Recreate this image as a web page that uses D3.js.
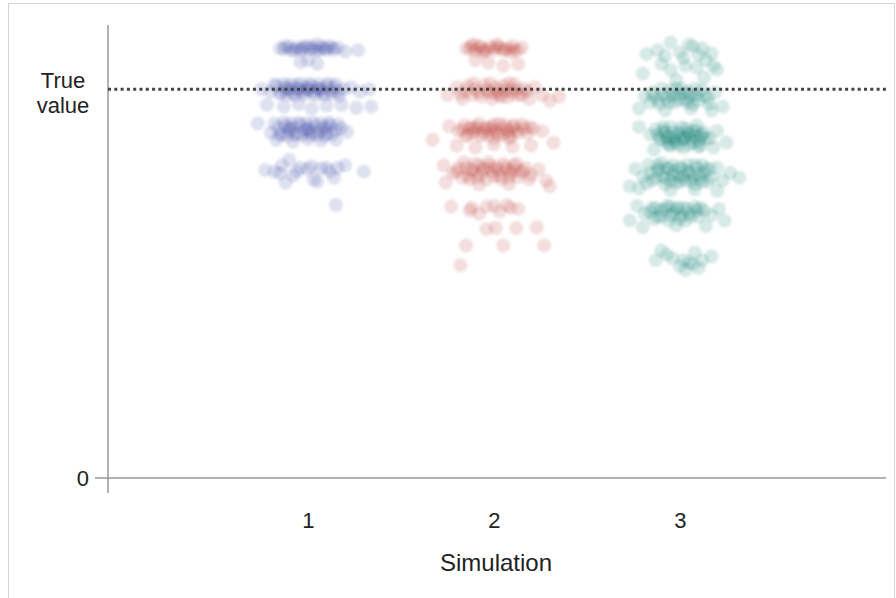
<!DOCTYPE html>
<html><head><meta charset="utf-8">
<script src="https://cdn.jsdelivr.net/npm/d3@7"></script>
<style>body{margin:0;background:#fff}svg{display:block}</style>
</head><body>
<svg id="c" width="896" height="598"></svg>
<script>
const simulations = [1, 2, 3];
const trueValue = 10;
const yTicks = [0, 10];
const yTickLabels = {0: ["0"], 10: ["True", "value"]};
const xTitle = "Simulation";
const colors = ["#303f9f", "#b8342a", "#00796b"];
// [jitter, value]
const sim1 = [
[-0.15,11.05],[-0.12,11.11],[-0.09,10.99],[-0.06,11.07],[-0.04,11.01],[-0.02,11.09],[0.01,11.03],[0.03,11.07],[0.06,10.99],[0.09,11.05],[0.11,11.11],[0.14,11.01],[0.16,11.07],[0.2,10.97],[0.27,11.0],
[-0.13,11.03],[-0.1,11.09],[-0.07,11.01],[-0.03,11.05],[0.0,11.11],[0.04,10.99],[0.07,11.09],[0.1,11.01],[0.13,11.07],[0.05,11.15],
[-0.04,10.7],[0.05,10.65],[0.0,10.75],
[-0.25,10.0],[-0.2,9.94],[-0.17,10.08],[-0.14,9.91],[-0.12,10.05],[-0.1,10.0],[-0.08,9.9],[-0.06,10.1],[-0.05,10.0],[-0.03,9.94],[-0.01,10.05],[0.0,9.97],[0.02,10.08],[0.03,9.91],[0.05,10.02],[0.07,10.0],[0.08,9.9],[0.1,10.08],[0.12,9.97],[0.14,10.05],[0.16,9.94],[0.19,10.0],[0.23,10.05],[0.28,9.94],[0.33,10.0],
[-0.18,10.12],[-0.15,9.88],[-0.13,10.14],[-0.11,9.86],[-0.09,10.12],[-0.07,9.84],[-0.04,10.14],[-0.02,9.86],[0.01,10.14],[0.04,9.84],[0.06,10.12],[0.09,9.86],[0.11,10.14],[0.13,9.88],[0.15,10.12],[0.17,9.84],[-0.06,10.0],[0.0,10.0],[0.06,10.0],[-0.12,10.0],
[-0.22,9.6],[-0.13,9.55],[-0.05,9.62],[0.02,9.5],[0.1,9.58],[0.18,9.6],[0.26,9.52],[0.34,9.55],
[-0.27,9.12],[-0.2,8.88],[-0.16,9.0],[-0.14,8.84],[-0.12,9.05],[-0.1,8.92],[-0.08,9.0],[-0.06,8.86],[-0.04,9.08],[-0.02,8.95],[0.0,9.0],[0.02,8.88],[0.04,9.05],[0.06,8.92],[0.08,9.0],[0.1,8.86],[0.12,9.08],[0.15,8.95],[0.18,9.0],[0.21,8.9],
[-0.18,9.12],[-0.15,8.82],[-0.13,9.14],[-0.11,8.8],[-0.09,9.12],[-0.07,8.82],[-0.05,9.14],[-0.03,8.82],[-0.01,9.12],[0.01,8.82],[0.03,9.14],[0.05,8.82],[0.07,9.12],[0.09,8.8],[0.11,9.14],[0.13,8.84],[0.16,9.1],[-0.1,9.0],[0.0,8.95],[0.1,9.0],
[-0.17,8.7],[-0.08,8.65],[0.0,8.72],[0.07,8.68],[0.15,8.7],
[-0.23,7.92],[-0.18,7.88],[-0.14,8.04],[-0.1,8.18],[-0.08,7.78],[-0.04,7.98],[0.0,7.94],[0.03,7.68],[0.07,7.96],[0.12,7.88],[0.16,7.98],[0.2,8.04],[0.3,7.88],[-0.12,7.6],[0.05,7.62],
[-0.15,7.84],[-0.06,7.88],[0.02,8.02],[0.1,7.98],[0.14,7.72],
[0.15,7.02]
];
const sim2 = [
[-0.15,11.05],[-0.12,11.11],[-0.1,10.99],[-0.07,11.07],[-0.05,11.01],[-0.02,11.09],[0.0,11.01],[0.03,11.07],[0.05,10.99],[0.08,11.05],[0.1,11.11],[0.13,11.01],[0.15,11.07],
[-0.13,11.03],[-0.08,11.11],[-0.04,10.99],[0.01,11.09],[0.06,11.03],[0.11,10.99],[-0.11,11.15],[0.02,11.15],[0.09,10.95],[-0.06,10.95],
[-0.03,10.68],[0.05,10.6],[0.13,10.65],[-0.1,10.75],
[-0.25,9.85],[-0.2,10.05],[-0.17,9.75],[-0.14,10.09],[-0.12,9.85],[-0.1,10.01],[-0.07,9.81],[-0.05,10.11],[-0.03,9.91],[-0.01,9.75],[0.01,10.05],[0.03,9.85],[0.05,10.09],[0.07,9.79],[0.09,9.99],[0.11,10.13],[0.13,9.85],[0.16,10.01],[0.19,9.75],[0.22,10.05],[0.26,9.85],[0.3,9.7],[0.35,9.81],
[-0.15,9.95],[-0.11,10.15],[-0.08,9.91],[-0.04,9.99],[-0.02,10.15],[0.0,9.89],[0.02,9.97],[0.04,9.81],[0.06,9.95],[0.08,10.15],[0.1,9.89],[0.12,9.99],[0.15,9.85],[0.18,9.95],[-0.18,9.89],
[-0.33,8.7],[-0.24,9.05],[-0.19,8.92],[-0.16,9.07],[-0.14,8.83],[-0.12,9.03],[-0.1,8.97],[-0.08,9.11],[-0.06,8.87],[-0.04,9.03],[-0.02,8.95],[0.0,9.09],[0.02,8.83],[0.04,8.99],[0.06,9.07],[0.08,8.89],[0.1,9.03],[0.12,8.95],[0.15,9.09],[0.18,8.87],[0.21,8.99],[0.26,8.92],
[-0.17,8.97],[-0.15,8.79],[-0.13,8.99],[-0.11,8.87],[-0.09,9.03],[-0.07,8.79],[-0.05,8.97],[-0.03,8.83],[-0.01,9.03],[0.01,8.91],[0.03,9.11],[0.05,8.83],[0.07,8.97],[0.09,8.79],[0.11,9.07],[0.13,8.87],[0.16,8.99],[0.19,9.03],[0.0,8.73],[0.08,8.73],
[-0.2,8.55],[-0.1,8.5],[0.0,8.58],[0.1,8.52],[0.2,8.55],[0.32,8.62],
[-0.27,8.04],[-0.22,7.84],[-0.19,7.98],[-0.16,8.12],[-0.14,7.78],[-0.12,7.94],[-0.1,8.08],[-0.07,7.82],[-0.05,7.98],[-0.03,8.12],[-0.01,7.88],[0.01,8.0],[0.03,7.78],[0.05,8.08],[0.07,7.92],[0.09,7.84],[0.11,8.04],[0.14,7.88],[0.17,7.98],[0.2,7.8],[0.24,7.94],[0.28,7.65],[-0.26,7.6],[-0.08,7.55],[0.08,7.56],[0.3,7.5],
[-0.2,7.88],[-0.17,7.72],[-0.15,7.98],[-0.13,7.68],[-0.11,7.88],[-0.09,7.72],[-0.06,7.92],[-0.04,7.68],[-0.02,8.02],[0.0,7.76],[0.02,7.92],[0.04,7.68],[0.06,8.0],[0.08,7.72],[0.1,7.92],[0.13,7.74],[0.16,7.88],[0.19,7.68],[-0.08,8.04],[0.12,8.08],
[-0.23,6.98],[-0.13,6.88],[-0.04,6.98],[0.03,6.86],[0.07,7.02],[0.13,6.92],[-0.08,6.8],
[-0.12,6.95],[0.0,7.0],[0.09,6.95],
[0.01,6.43],[0.12,6.43],[0.23,6.45],[-0.04,6.4],
[-0.15,5.98],[0.05,5.98],[0.27,5.98],
[-0.18,5.47]
];
const sim3 = [
[-0.05,11.2],[0.05,11.15],[0.12,11.05],[-0.18,10.9],[-0.08,10.85],[0.0,10.95],[0.1,10.88],[0.17,10.92],[-0.1,10.65],[0.03,10.6],[0.09,10.55],[0.18,10.6],[-0.2,10.4],[0.13,10.3],[0.2,10.5],[-0.02,10.25],
[-0.12,11.0],[0.07,11.1],[0.02,10.8],[0.14,10.75],[-0.05,10.5],
[-0.19,9.82],[-0.15,9.92],[-0.12,9.72],[-0.1,10.02],[-0.07,9.78],[-0.05,9.98],[-0.03,9.66],[-0.01,9.86],[0.01,10.02],[0.03,9.74],[0.05,9.92],[0.07,9.62],[0.09,9.86],[0.12,9.98],[0.15,9.78],[0.19,9.92],[-0.22,9.5],[-0.08,9.45],[0.06,9.5],[0.17,9.45],[0.23,9.55],
[-0.14,9.82],[-0.11,9.62],[-0.09,9.86],[-0.06,9.66],[-0.04,9.82],[-0.02,10.02],[0.0,9.72],[0.02,9.9],[0.04,9.66],[0.06,9.82],[0.08,10.02],[0.1,9.7],[0.13,9.82],[-0.16,9.66],[0.16,9.62],
[-0.22,9.03],[-0.16,8.83],[-0.13,8.97],[-0.11,8.73],[-0.09,8.93],[-0.07,8.77],[-0.05,9.03],[-0.03,8.69],[-0.01,8.89],[0.01,8.73],[0.03,8.99],[0.05,8.83],[0.07,8.63],[0.09,8.93],[0.11,8.77],[0.13,8.89],[0.16,8.73],[0.2,8.93],[0.25,8.63],[-0.06,8.55],[0.02,8.5],[0.1,8.52],[-0.14,8.45],[0.18,8.5],
[-0.12,8.83],[-0.1,8.69],[-0.08,8.89],[-0.06,8.73],[-0.04,8.89],[-0.02,8.63],[0.0,8.83],[0.02,8.69],[0.04,8.89],[0.06,8.73],[0.08,8.81],[0.1,8.65],[0.12,8.83],[-0.05,8.57],[0.05,8.57],[-0.09,9.03],[0.01,9.03],[0.09,9.07],[-0.03,8.77],[0.03,8.77],[0.07,8.93],[-0.07,8.63],[0.11,8.55],[-0.01,8.55],[0.14,8.73],
[-0.27,7.5],[-0.24,7.95],[-0.2,7.75],[-0.17,8.05],[-0.15,7.65],[-0.12,7.9],[-0.1,8.1],[-0.08,7.7],[-0.06,7.95],[-0.04,7.8],[-0.02,7.6],[0.0,8.0],[0.02,7.75],[0.04,7.9],[0.06,7.65],[0.08,8.05],[0.1,7.8],[0.12,7.62],[0.14,7.95],[0.17,7.72],[0.2,7.98],[0.23,7.65],[0.27,7.85],[0.32,7.72],[-0.22,7.45],[-0.05,7.4],[0.08,7.42],[0.2,7.38],
[-0.16,7.85],[-0.13,7.72],[-0.11,7.95],[-0.09,7.75],[-0.07,7.98],[-0.05,7.65],[-0.03,7.9],[-0.01,7.75],[0.01,7.95],[0.03,7.65],[0.05,7.85],[0.07,7.75],[0.09,7.98],[0.11,7.7],[0.13,7.85],[0.15,7.62],[-0.08,7.55],[0.0,7.62],[0.08,7.55],[-0.04,8.05],[0.04,8.05],[0.16,7.95],[-0.18,7.58],[0.12,8.05],[-0.12,8.05],
[-0.27,6.62],[-0.23,7.0],[-0.19,6.8],[-0.15,6.95],[-0.12,6.72],[-0.1,6.88],[-0.07,7.0],[-0.05,6.76],[-0.02,6.92],[0.0,6.66],[0.02,6.95],[0.05,6.8],[0.08,6.98],[0.1,6.72],[0.13,6.88],[0.17,6.76],[0.21,6.92],[0.24,6.62],[-0.2,6.45],[-0.02,6.5],[0.14,6.48],
[-0.16,6.84],[-0.13,6.95],[-0.1,6.72],[-0.08,6.92],[-0.05,6.98],[-0.03,6.8],[-0.01,6.95],[0.01,6.76],[0.04,6.92],[0.06,6.72],[0.09,6.88],[0.11,6.95],[-0.06,6.62],[0.03,6.62],[-0.14,6.66],
[-0.1,5.85],[-0.04,5.65],[0.0,5.45],[0.05,5.55],[0.08,5.8],[0.12,5.6],[0.17,5.7],[-0.13,5.6],[0.03,5.35],[0.1,5.4],
[0.02,5.6],[0.07,5.5],[-0.07,5.75]
];
const series = [sim1, sim2, sim3];

const svg = d3.select("#c");
const font = "'Liberation Sans', Arial, sans-serif";
svg.append("rect").attr("x", 8.5).attr("y", 3.5).attr("width", 886).attr("height", 600)
  .attr("fill", "#fff").attr("stroke", "#d4d4d4");

const defs = svg.append("defs");
defs.append("filter").attr("id", "soft").append("feGaussianBlur").attr("stdDeviation", 0.9);

const x = d3.scaleLinear().domain([-0.075, 4.108]).range([108, 886]);
const y = d3.scaleLinear().domain([0, 11.65]).range([478, 25]);

// points
series.forEach((pts, i) => {
  svg.append("g").attr("filter", "url(#soft)").selectAll("circle").data(pts).join("circle")
    .attr("cx", d => x(simulations[i] + d[0]))
    .attr("cy", d => y(d[1]))
    .attr("r", 7)
    .attr("fill", colors[i])
    .attr("fill-opacity", 0.155);
});

// axes
const yAxis = svg.append("g").attr("transform", "translate(108,0)")
  .call(d3.axisLeft(y).tickValues(yTicks).tickSize(0).tickFormat(""));
yAxis.select(".domain").attr("d", `M0,${y(11.65)}V${y(0) + 15}`).attr("stroke", "#999").attr("stroke-width", 1.5);

const xAxis = svg.append("g").attr("transform", `translate(0,${y(0)})`)
  .call(d3.axisBottom(x).tickValues(simulations).tickSize(0).tickFormat(d3.format("d")));
xAxis.select(".domain").attr("d", `M95,0H886`).attr("stroke", "#999").attr("stroke-width", 1.5);
xAxis.selectAll("text").attr("font-family", font).attr("font-size", 22).attr("fill", "#222")
  .attr("y", 50).attr("dy", 0);

// y tick labels
yTicks.forEach(t => {
  const lines = yTickLabels[t];
  const multi = lines.length > 1;
  const txt = svg.append("text").attr("font-family", font).attr("font-size", 22).attr("fill", "#222")
    .attr("text-anchor", multi ? "middle" : "end");
  lines.forEach((l, j) => {
    txt.append("tspan").attr("x", multi ? 63 : 89)
      .attr("y", y(t) + (multi ? 11 : 8) + (j - (lines.length - 1) / 2) * 25).text(l);
  });
});

// true value line
svg.append("line").attr("x1", 108).attr("x2", 886).attr("y1", y(trueValue)).attr("y2", y(trueValue))
  .attr("stroke", "#444").attr("stroke-width", 3).attr("stroke-dasharray", "3,3.3");

svg.append("text").attr("x", 496).attr("y", 571).attr("text-anchor", "middle")
  .attr("font-family", font).attr("font-size", 24).attr("fill", "#222").text(xTitle);
</script>
</body></html>
